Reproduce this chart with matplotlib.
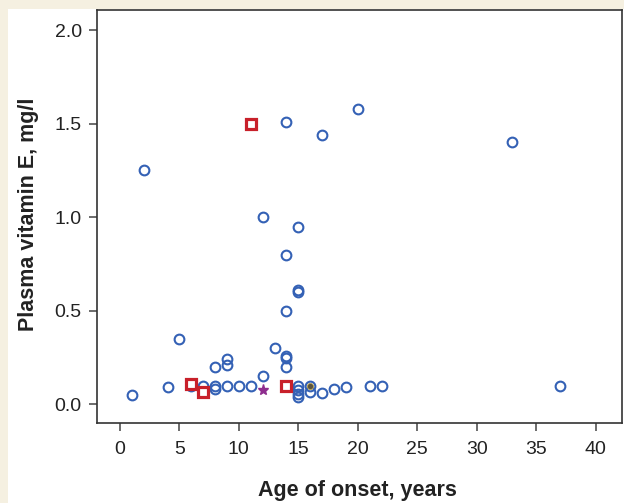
import matplotlib
matplotlib.use("Agg")
import matplotlib.pyplot as plt
from matplotlib.patches import Rectangle

plt.rcParams['font.family'] = ['Liberation Sans', 'DejaVu Sans']

# open blue circles: age of onset (years) vs plasma vitamin E (mg/l)
circle_age = [1, 2, 4, 5, 6, 7, 8, 8, 8, 9, 9, 9, 10, 11, 12, 12,
              13, 14, 14, 14, 14, 14, 14, 15, 15, 15, 15, 15, 15, 15,
              16, 16, 17, 17, 18, 19, 20, 21, 22, 33, 37]
circle_vite = [0.05, 1.25, 0.09, 0.35, 0.10, 0.10, 0.20, 0.10, 0.08, 0.24, 0.21, 0.10, 0.10, 0.10, 1.00, 0.15,
               0.30, 1.51, 0.80, 0.50, 0.26, 0.25, 0.20, 0.95, 0.61, 0.60, 0.10, 0.075, 0.053, 0.04,
               0.10, 0.066, 1.44, 0.06, 0.08, 0.09, 1.58, 0.10, 0.10, 1.40, 0.10]

# red squares
square_age = [6, 7, 11, 14]
square_vite = [0.11, 0.066, 1.50, 0.10]

# purple star
star_age = [12]
star_vite = [0.075]

# dark filled dot inside a circle
dot_age = [16]
dot_vite = [0.10]

xticks = [0, 5, 10, 15, 20, 25, 30, 35, 40]
yticks = [0.0, 0.5, 1.0, 1.5, 2.0]

fig = plt.figure(figsize=(6.24, 5.03), dpi=100)
fig.patch.set_facecolor('#F5F0E1')
fig.patches.append(Rectangle((8 / 624, 0), 1, (503 - 9) / 503,
                             transform=fig.transFigure, facecolor='white',
                             edgecolor='none', zorder=-10))

ax = fig.add_axes([97 / 624, 80 / 503, (621.7 - 97) / 624, (423 - 9.5) / 503])
ax.set_facecolor('white')

blue = '#3461B5'
ax.plot(circle_age, circle_vite, 'o', ms=7.0, mfc='none', mec=blue, mew=1.5, zorder=3)
ax.plot(dot_age, dot_vite, 'o', ms=4.4, mfc='#5a5440', mec='#b8a04a', mew=0.6, zorder=4)
ax.plot(square_age, square_vite, 's', ms=6.8, mfc='white', mec='#C8202A', mew=2.3, zorder=5)
ax.plot(star_age, star_vite, '*', ms=8, color='#8E2D8E', mec='#8E2D8E', zorder=5)

ax.set_xlim(-1.93, 42.2)
ax.set_ylim(-0.1, 2.11)
ax.set_xticks(xticks)
ax.set_yticks(yticks)
ax.set_yticklabels([f'{v:.1f}' for v in yticks])

for s in ax.spines.values():
    s.set_color('#333333')
    s.set_linewidth(1.2)
ax.tick_params(direction='out', length=6, width=1.1, color='#444444',
               labelsize=14, labelcolor='#222222')
ax.tick_params(axis='x', pad=7)
ax.tick_params(axis='y', pad=5)

ax.set_xlabel('Age of onset, years', fontsize=15.5, fontweight='bold',
              color='#222222')
ax.set_ylabel('Plasma vitamin E, mg/l', fontsize=15.5, fontweight='bold',
              color='#222222')
ax.xaxis.set_label_coords(0.497, -0.138)
ax.yaxis.set_label_coords(-0.111, 0.505)

fig.savefig('out.png', dpi=100, facecolor=fig.get_facecolor())
